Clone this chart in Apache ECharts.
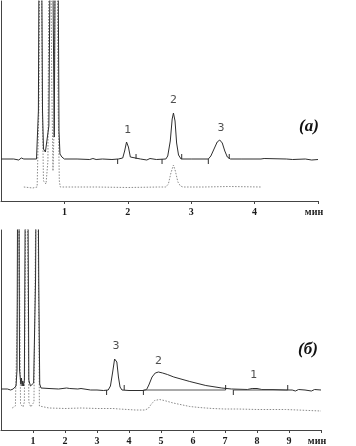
<!DOCTYPE html>
<html>
<head>
<meta charset="utf-8">
<script src="https://cdn.jsdelivr.net/npm/echarts@6/dist/echarts.min.js"></script>
<style>
html,body{margin:0;padding:0;background:#fff;}
#chart{width:356px;height:446px;}
</style>
</head>
<body>
<div id="chart"></div>
<script>
// ---- Panel (а): time (min) vs detector signal ----
const solidA = [
 [0.00,42],[0.20,42],[0.28,41],[0.32,43],[0.36,42],[0.56,42],[0.58,43],[0.59,90],[0.60,260],[0.615,420],
 [0.64,260],[0.655,90],[0.67,52],[0.70,49],[0.73,50],[0.755,75],[0.775,250],[0.795,420],[0.815,250],[0.84,64],
 [0.855,250],[0.875,420],[0.90,250],[0.915,70],[0.93,47],[0.96,44],[1.00,42],[1.20,42],[1.40,41.5],[1.45,42.5],
 [1.50,41.5],[1.60,42],[1.75,41.5],[1.85,42],[1.92,43],[1.95,50],[1.98,59],[2.01,54],[2.04,44],[2.07,42],
 [2.20,42],[2.30,41],[2.35,42.5],[2.45,41.5],[2.60,42],[2.63,45],[2.67,60],[2.70,82],[2.72,88],[2.745,80],
 [2.77,58],[2.80,46],[2.84,42],[3.00,42],[3.27,42],[3.31,45],[3.36,52],[3.41,59],[3.45,61],[3.49,58],
 [3.53,50],[3.57,44],[3.62,42],[3.80,42],[4.10,42],[4.12,40.5],[4.15,42.5],[4.18,42],[4.50,42],[4.60,41.5],
 [4.80,42],[4.90,41],[5.00,41.5]
];
const dottedA = [
 [0.36,14],[0.50,13],[0.57,14],[0.60,100],[0.625,420],[0.65,100],[0.67,20],[0.71,17],[0.74,40],[0.77,420],
 [0.80,120],[0.82,30],[0.84,80],[0.87,420],[0.90,100],[0.92,20],[0.935,14],[1.00,14],[1.50,14],[2.00,13.5],
 [2.50,14],[2.60,14],[2.64,17],[2.68,28],[2.72,36],[2.75,30],[2.79,19],[2.83,15],[2.87,14],[3.20,14],
 [3.60,14.5],[4.10,14]
];
const ticksA = [[1.84,-1],[2.13,1],[2.54,-1],[2.85,1],[3.27,-1],[3.60,1]];
const baseA = 42;
const peakLabelsA = [[2.00,71,'1'],[2.72,101,'2'],[3.47,73,'3']];
const tickLabelsA = [1,2,3,4];

// ---- Panel (б) ----
const solidB = [
 [0.00,41],[0.20,41],[0.30,40],[0.34,38],[0.38,41],[0.42,43],[0.47,44],[0.50,60],[0.52,250],[0.54,420],
 [0.56,250],[0.58,60],[0.62,46],[0.64,52],[0.66,44],[0.68,49],[0.70,44],[0.73,50],[0.76,250],[0.80,420],
 [0.84,250],[0.87,50],[0.92,44],[0.97,43],[1.02,47],[1.08,150],[1.13,420],[1.18,150],[1.21,46],[1.25,42],
 [1.50,41.5],[1.80,41],[2.05,42],[2.10,43],[2.15,41.5],[2.40,41],[2.50,41.5],[2.80,40],[3.00,40],[3.20,39.5],
 [3.35,40],[3.42,44],[3.49,58],[3.55,71],[3.58,73],[3.62,68],[3.67,53],[3.72,43],[3.78,40],[4.00,39.5],
 [4.45,39.5],[4.55,40.5],[4.62,45],[4.72,53],[4.82,57],[4.92,58],[5.05,57],[5.20,55.5],[5.40,53],[5.90,48.5],
 [6.40,44.5],[6.90,42],[7.20,41],[7.70,40.5],[7.85,41.5],[8.00,41.5],[8.15,40.5],[8.50,40.5],[8.90,40],[9.10,40],
 [9.20,39],[9.30,40.5],[9.50,40],[9.70,39],[9.80,40.5],[10.00,40]
];
const dottedB = [
 [0.35,22],[0.45,24],[0.50,26],[0.53,150],[0.555,420],[0.58,150],[0.61,26],[0.65,24],[0.69,23],[0.73,28],
 [0.77,200],[0.80,420],[0.83,200],[0.87,28],[0.93,23],[0.98,22],[1.03,28],[1.08,200],[1.12,420],[1.16,200],
 [1.20,24],[1.25,22],[1.50,22],[2.00,21.5],[2.50,22],[3.00,21.5],[3.50,21.5],[3.70,21],[3.75,20.5],[4.20,20],
 [4.50,20],[4.60,21.5],[4.70,26],[4.80,29.5],[4.95,30.5],[5.10,29.5],[5.38,27],[5.90,23.5],[6.20,22.5],[6.60,21.5],
 [7.00,21],[7.40,21],[8.00,20.5],[8.90,20.5],[8.95,19],[10.00,19]
];
const ticksB = [[3.30,-1],[3.85,1],[4.45,-1],[7.02,1],[7.26,-1],[8.96,1]];
const baseB = 40;
const intBaseB = [[4.45,7.02],[7.26,8.96]];
const peakLabelsB = [[3.59,84,'3'],[4.92,69,'2'],[7.90,55,'1']];
const tickLabelsB = [1,2,3,4,5,6,7,8,9];

function tickSegs(ticks, base){
  const out = [];
  ticks.forEach(t => { out.push([t[0], base]); out.push([t[0], base + 5*t[1]]); out.push(null); });
  return out;
}
function baseSegs(pairs, base){
  const out = [];
  pairs.forEach(p => { out.push([p[0], base]); out.push([p[1], base]); out.push(null); });
  return out;
}

const AX = '#444', SOLID = '#2e2e2e', DOT = '#8a8a8a';
function xAxisCfg(idx, max, labels){
  return {
    type:'value', gridIndex:idx, min:0, max:max, interval:1,
    axisLine:{show:true, lineStyle:{color:AX, width:1}},
    axisTick:{show:true, length:3, inside:false, lineStyle:{color:AX}},
    splitLine:{show:false},
    axisLabel:{
      margin:6, color:'#1a1a1a', fontFamily:'Liberation Serif', fontWeight:'bold', fontSize:10,
      showMinLabel:false, showMaxLabel:true,
      formatter: v => v === max ? '{u|мин}' : (labels.indexOf(v) >= 0 ? String(v) : ''),
      rich:{u:{fontFamily:'Liberation Serif', fontWeight:'bold', fontSize:10, padding:[0,8,0,0], color:'#1a1a1a'}}
    }
  };
}
function yAxisCfg(idx){
  return {type:'value', gridIndex:idx, min:0, max:200,
    axisLine:{show:true, lineStyle:{color:AX, width:1}}, axisTick:{show:false},
    axisLabel:{show:false}, splitLine:{show:false}};
}
function lineS(idx, data, color, type, w){
  return {type:'line', xAxisIndex:idx, yAxisIndex:idx, data:data, showSymbol:false, symbol:'none',
    clip:true, connectNulls:false, animation:false,
    lineStyle:{color:color, width:w||1, type:type||'solid'}, z:type==='solid'?3:2};
}
function labelS(idx, arr){
  return {type:'scatter', xAxisIndex:idx, yAxisIndex:idx, symbolSize:0, animation:false,
    data: arr.map(a => ({value:[a[0],a[1]], name:a[2]})),
    label:{show:true, position:'inside', formatter:p => p.name, color:'#222', fontFamily:'DejaVu Sans', fontSize:11}};
}

const chart = echarts.init(document.getElementById('chart'), null, {renderer:'canvas'});
chart.setOption({
  backgroundColor:'#fff',
  animation:false,
  grid:[
    {left:1, top:1, width:317, height:200},
    {left:1, top:230, width:320, height:200}
  ],
  xAxis:[xAxisCfg(0,5,tickLabelsA), xAxisCfg(1,10,tickLabelsB)],
  yAxis:[yAxisCfg(0), yAxisCfg(1)],
  series:[
    lineS(0, dottedA, DOT, [1.5,1.5], 1),
    lineS(0, solidA, SOLID, 'solid', 1),
    lineS(0, tickSegs(ticksA, baseA), SOLID, 'solid', 1),
    labelS(0, peakLabelsA),
    lineS(1, dottedB, DOT, [1.5,1.5], 1),
    lineS(1, solidB, SOLID, 'solid', 1),
    lineS(1, baseSegs(intBaseB, baseB), '#555', 'solid', 1),
    lineS(1, tickSegs(ticksB, baseB), SOLID, 'solid', 1),
    labelS(1, peakLabelsB)
  ],
  graphic:[
    {type:'text', left:299, top:118, style:{text:'(а)', fill:'#111', font:'italic bold 17px "Liberation Serif"'}},
    {type:'text', left:298, top:341, style:{text:'(б)', fill:'#111', font:'italic bold 17px "Liberation Serif"'}}
  ]
});
</script>
</body>
</html>
